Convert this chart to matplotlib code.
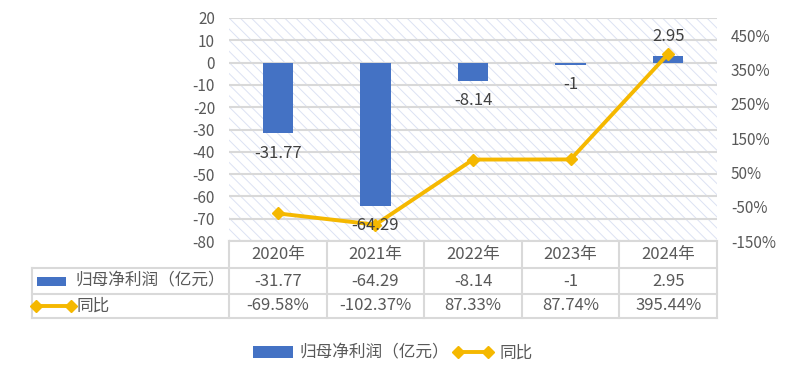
import matplotlib
matplotlib.use('Agg')
import matplotlib.pyplot as plt
import matplotlib.transforms as mtransforms
from matplotlib.patches import Rectangle, Patch
from matplotlib.lines import Line2D
import numpy as np

plt.rcParams['font.family'] = ['Noto Sans CJK SC', 'DejaVu Sans']
plt.rcParams['hatch.linewidth'] = 0.7
plt.rcParams['axes.unicode_minus'] = False

years = ['2020年', '2021年', '2022年', '2023年', '2024年']
profit = [-31.77, -64.29, -8.14, -1, 2.95]
profit_text = ['-31.77', '-64.29', '-8.14', '-1', '2.95']
yoy = [-69.58, -102.37, 87.33, 87.74, 395.44]
yoy_text = ['-69.58%', '-102.37%', '87.33%', '87.74%', '395.44%']
name_bar = '归母净利润（亿元）'
name_line = '同比'

W, H = 792, 372
blue = '#4472C4'
gold = '#F5B800'
txt = '#595959'
grid = '#D9D9D9'
fs = 11
fs_tab = 12

fig = plt.figure(figsize=(W / 100, H / 100), dpi=100)
L, R, T, B = 229, 717, 18, 241
ax = fig.add_axes([L / W, 1 - B / H, (R - L) / W, (B - T) / H])

def fx(p):
    return p / W

def fy(p):
    return 1 - p / H

x = np.arange(len(years))

# hatched background
ax.patch.set_facecolor('white')
ax.patch.set_hatch('\\\\\\')
ax.patch.set_edgecolor('#DCE2F3')
ax.patch.set_linewidth(0)

ax.bar(x, profit, width=0.31, color=blue, zorder=3)
ax.set_xlim(-0.5, len(years) - 0.5)
ax.set_ylim(-80, 20)
ax.set_yticks(np.arange(-80, 21, 10))
ax.yaxis.grid(True, color=grid, linewidth=1.5)
ax.set_axisbelow(True)
ax.set_xticks([])
for s in ax.spines.values():
    s.set_visible(False)
ax.tick_params(axis='y', length=0, pad=10, labelsize=fs, labelcolor=txt)

ax2 = ax.twinx()
ax2.plot(x, yoy, color=gold, linewidth=2.8, marker='D', markersize=6.5, zorder=4)
ax2.set_ylim(-150, 500)
ax2.set_yticks(np.arange(-150, 451, 100))
ax2.set_yticklabels([f'{v}%' for v in range(-150, 451, 100)])
ax2.tick_params(axis='y', length=0, pad=10, labelsize=fs, labelcolor=txt)
for s in ax2.spines.values():
    s.set_visible(False)

# bar labels on top of everything
for i, v in enumerate(profit):
    off = 14.4 if v > 0 else -14.4
    ax2.annotate(profit_text[i], xy=(i, v), xycoords=ax.transData,
                 xytext=(0, off), textcoords='offset points',
                 ha='center', va='center', fontsize=fs_tab, color='#404040', zorder=6)

# data table
tb = mtransforms.blended_transform_factory(ax.transData, fig.transFigure)
lw = 1.5
rows_y = [241, 268, 294, 318]
for yy in rows_y:
    x0 = 32 if yy > 241 else L
    fig.add_artist(Line2D([fx(x0), fx(R)], [fy(yy), fy(yy)], color=grid, lw=lw))
fig.add_artist(Line2D([fx(32), fx(32)], [fy(268), fy(318)], color=grid, lw=lw))
for k in range(len(years) + 1):
    fig.add_artist(Line2D([k - 0.5, k - 0.5], [fy(241), fy(318)], color=grid, lw=lw,
                          transform=tb))
for i in range(len(years)):
    fig.text(i, fy(255), years[i], transform=tb, ha='center', va='center', fontsize=fs_tab, color=txt)
    fig.text(i, fy(281), profit_text[i], transform=tb, ha='center', va='center', fontsize=fs_tab, color=txt)
    fig.text(i, fy(306), yoy_text[i], transform=tb, ha='center', va='center', fontsize=fs_tab, color=txt)

fig.add_artist(Rectangle((fx(37), fy(286)), fx(29), 9 / H, facecolor=blue, edgecolor='none'))
fig.text(fx(75), fy(281), name_bar, ha='left', va='center', fontsize=fs_tab, color=txt)
fig.add_artist(Line2D([fx(36), fx(71)], [fy(306), fy(306)], color=gold, lw=2.8,
                      marker='D', markersize=6.5))
fig.text(fx(76), fy(306), name_line, ha='left', va='center', fontsize=fs_tab, color=txt)

handles = [Patch(facecolor=blue, edgecolor='none'),
           Line2D([], [], color=gold, lw=2.8, marker='D', markersize=6.5)]
fig.legend(handles, [name_bar, name_line], loc='center', bbox_to_anchor=(fx(393), fy(353)),
           ncol=2, frameon=False, fontsize=fs_tab, labelcolor=txt, handlelength=2.4,
           handletextpad=0.4, columnspacing=0.2, numpoints=2)

fig.savefig('out.png', dpi=100)
